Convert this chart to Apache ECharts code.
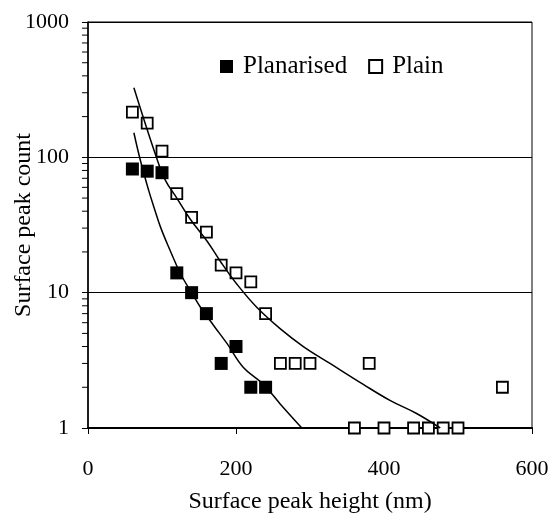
<!DOCTYPE html>
<html>
<head>
<meta charset="utf-8">
<script src="https://cdn.jsdelivr.net/npm/echarts@6/dist/echarts.min.js"></script>
<style>
html,body{margin:0;padding:0;background:#fff;}
#chart{width:549px;height:517px;}
</style>
</head>
<body>
<div id="chart"></div>
<script>
// Data
const planarisedX = [60, 80, 100, 120, 140, 160, 180, 200, 220, 240];
const planarisedY = [82, 79, 77, 14, 10, 7, 3, 4, 2, 2];
const plainX = [60, 80, 100, 120, 140, 160, 180, 200, 220, 240, 260, 280, 300, 360, 380, 400, 440, 460, 480, 500, 560];
const plainY = [216, 179, 111, 54, 36, 28, 16, 14, 12, 7, 3, 3, 3, 1, 3, 1, 1, 1, 1, 1, 2];
// Trend curves, points
const planarisedFitX = [62, 71, 82, 89, 98, 111, 125, 141, 152, 170, 188, 210, 237, 260, 289];
const planarisedFitY = [152, 94, 57, 43, 30.5, 20.5, 13.8, 9.8, 7.8, 5.7, 4.2, 2.8, 2.1, 1.5, 1.0];
const plainFitX = [62, 93, 105, 120, 138, 161, 179, 201, 228, 260, 291, 327, 372, 408, 444, 476];
const plainFitY = [327, 98, 67, 50, 35, 24, 17, 11.6, 7.8, 5.4, 4.0, 3.0, 2.1, 1.6, 1.28, 1.0];
const xTicks = [0, 200, 400, 600];
const yTicks = [1, 10, 100, 1000];
const seriesNames = ['Planarised', 'Plain'];

const zip = (xs, ys) => xs.map((x, i) => [x, ys[i]]);
const minorVals = [];
for (let d = 1; d < 1000; d *= 10) for (let k = 2; k <= 9; k++) minorVals.push(d * k);

const FONT = 'Liberation Serif';
const chart = echarts.init(document.getElementById('chart'), null, {renderer: 'canvas'});
chart.setOption({
  animation: false,
  backgroundColor: '#fff',
  textStyle: {fontFamily: FONT, color: '#000'},
  grid: {left: 88, right: 17, top: 22, bottom: 89, containLabel: false, outerBoundsMode: 'none',
         show: true, borderColor: '#000', borderWidth: 1, backgroundColor: 'transparent'},
  legend: {
    data: [{name: seriesNames[0]}, {name: seriesNames[1]}],
    left: 220, top: 54, padding: 0,
    itemWidth: 13, itemHeight: 13, itemGap: 21,
    textStyle: {fontFamily: FONT, fontSize: 25, color: '#000', padding: [0, 0, 0, 5]},
    selectedMode: false
  },
  xAxis: {
    type: 'value', min: xTicks[0], max: xTicks[xTicks.length - 1], interval: 200,
    name: 'Surface peak height (nm)', nameLocation: 'middle', nameGap: 62, nameMoveOverlap: false,
    nameTextStyle: {fontFamily: FONT, fontSize: 24, color: '#000'},
    axisLine: {show: true, onZero: false, lineStyle: {color: '#000', width: 2}},
    axisTick: {show: true, inside: false, length: 6, lineStyle: {color: '#000', width: 1}},
    axisLabel: {fontFamily: FONT, fontSize: 22, color: '#000', margin: 30, formatter: v => String(v)},
    splitLine: {show: false}
  },
  yAxis: {
    type: 'log', logBase: 10, min: yTicks[0], max: yTicks[yTicks.length - 1],
    name: 'Surface peak count', nameLocation: 'middle', nameGap: 52, nameRotate: 90, nameMoveOverlap: false,
    nameTextStyle: {fontFamily: FONT, fontSize: 24, color: '#000'},
    axisLine: {show: true, lineStyle: {color: '#000', width: 1.5}},
    axisTick: {show: true, inside: false, length: 6, lineStyle: {color: '#000', width: 1}},
    axisLabel: {fontFamily: FONT, fontSize: 22, color: '#000', margin: 19, formatter: v => String(Math.round(v))},
    splitLine: {show: true, lineStyle: {color: '#000', width: 1}},
    minorTick: {show: false}
  },
  series: [
    {
      name: seriesNames[0], type: 'scatter', symbol: 'rect', symbolSize: 13,
      itemStyle: {color: '#000', borderColor: '#000', borderWidth: 0, opacity: 1},
      data: zip(planarisedX, planarisedY), z: 3
    },
    {
      name: seriesNames[1], type: 'scatter', symbol: 'rect', symbolSize: 11,
      itemStyle: {color: '#fff', borderColor: '#000', borderWidth: 1.8, opacity: 1},
      data: zip(plainX, plainY), z: 3
    },
    {
      name: 'fitPlanarised', type: 'line', smooth: 0.4, showSymbol: false, symbol: 'none',
      lineStyle: {color: '#000', width: 1.5}, data: zip(planarisedFitX, planarisedFitY), z: 4,
      silent: true
    },
    {
      name: 'fitPlain', type: 'line', smooth: 0.4, showSymbol: false, symbol: 'none',
      lineStyle: {color: '#000', width: 1.5}, data: zip(plainFitX, plainFitY), z: 4,
      silent: true
    },
    {
      name: 'minorTicks', type: 'custom', silent: true, clip: false,
      data: minorVals.map(v => [0, v]),
      renderItem: function (params, api) {
        const p = api.coord([api.value(0), api.value(1)]);
        return {type: 'line', shape: {x1: p[0] - 6, y1: p[1], x2: p[0], y2: p[1]},
                style: {stroke: '#000', lineWidth: 1}};
      }
    }
  ]
});
</script>
</body>
</html>
